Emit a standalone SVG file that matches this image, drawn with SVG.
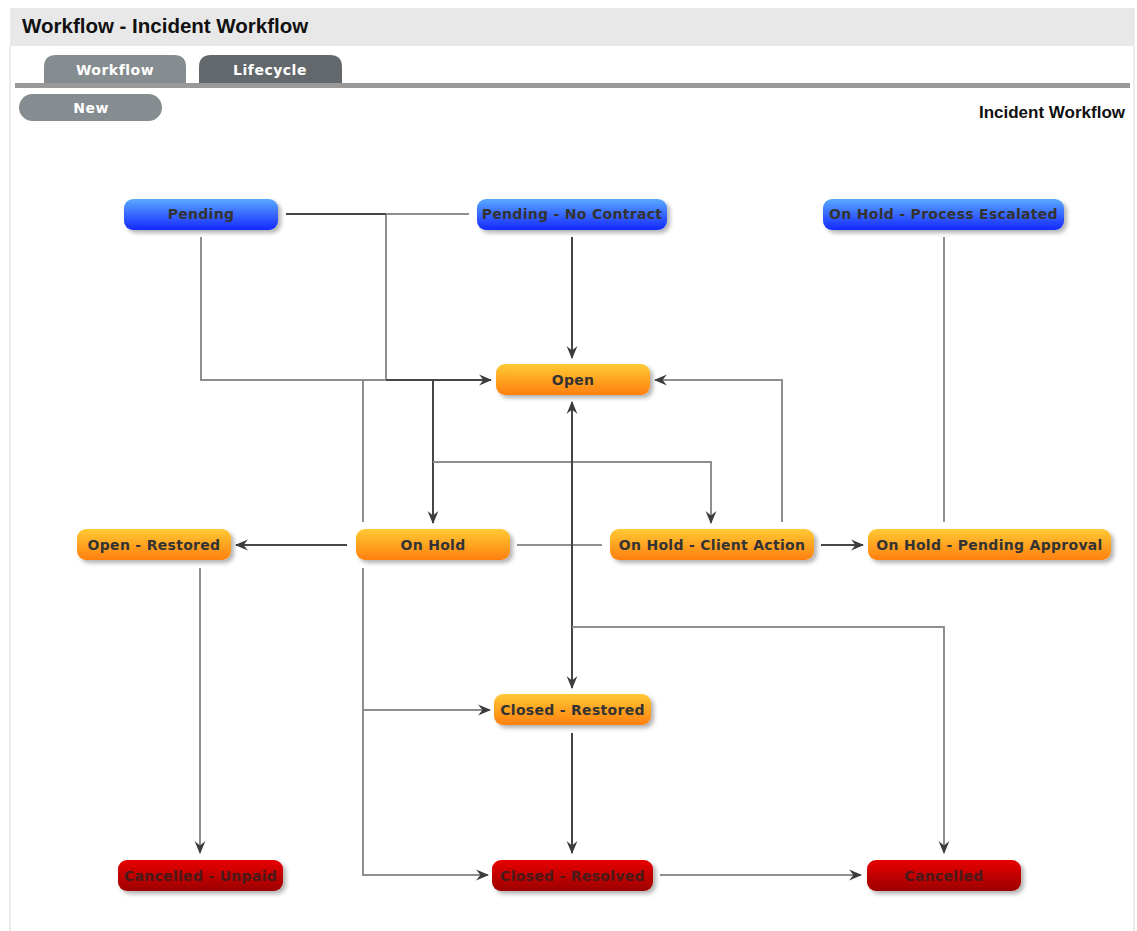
<svg xmlns="http://www.w3.org/2000/svg" width="1137" height="931" viewBox="0 0 1137 931">
<style>
.hdr{font-family:"Liberation Sans",Arial,sans-serif;font-weight:bold;fill:#111}
.tab{font-family:"DejaVu Sans",sans-serif;font-weight:bold;font-size:14px;fill:#fff;text-anchor:middle;letter-spacing:0.5px}
.lbl{font-family:"DejaVu Sans",sans-serif;font-weight:bold;font-size:14px;fill:#333;text-anchor:middle;letter-spacing:0.3px}
.lbl.r{fill:#4a1a1a}
.lt{fill:none;stroke:#8e8e8e;stroke-width:2}
.dk{fill:none;stroke:#464646;stroke-width:2}
.ar{marker-end:url(#arr)}
</style>
<defs>
<linearGradient id="gB" x1="0" y1="0" x2="0" y2="1"><stop offset="0" stop-color="#5aa9ff"/><stop offset="1" stop-color="#1428ff"/></linearGradient>
<linearGradient id="gO" x1="0" y1="0" x2="0" y2="1"><stop offset="0" stop-color="#ffca35"/><stop offset="1" stop-color="#ff7f0e"/></linearGradient>
<linearGradient id="gR" x1="0" y1="0" x2="0" y2="1"><stop offset="0" stop-color="#e80202"/><stop offset="1" stop-color="#9c0000"/></linearGradient>
<filter id="sh" x="-10%" y="-30%" width="125%" height="170%"><feDropShadow dx="3" dy="3" stdDeviation="2" flood-color="#000" flood-opacity="0.3"/></filter>
<marker id="arr" viewBox="0 0 12 12" refX="11" refY="6" markerWidth="13" markerHeight="13" markerUnits="userSpaceOnUse" orient="auto-start-reverse"><path d="M0,1 L12,6 L0,11 L4,6 z" fill="#3c3c3c"/></marker>
</defs>
<rect width="1137" height="931" fill="#fff"/>
<g id="frame">
<rect x="9" y="46" width="2" height="885" fill="#ececec"/>
<rect x="1133" y="8" width="2" height="923" fill="#ececec"/>
<rect x="10" y="8" width="1124" height="38" fill="#e8e8e8"/>
<text class="hdr" x="22" y="33" font-size="20.5">Workflow - Incident Workflow</text>
<path d="M44,84 V67 Q44,55 56,55 H174 Q186,55 186,67 V84 z" fill="#868d90"/>
<text class="tab" x="115" y="75">Workflow</text>
<path d="M199,84 V67 Q199,55 211,55 H330 Q342,55 342,67 V84 z" fill="#62686b"/>
<text class="tab" x="270" y="75">Lifecycle</text>
<rect x="15" y="83" width="1115" height="5" fill="#999"/>
<rect x="19" y="94" width="143" height="27" rx="13.5" fill="#868d90"/>
<text class="tab" x="91" y="113" font-size="13">New</text>
<text class="hdr" x="1125" y="118" font-size="17" text-anchor="end">Incident Workflow</text>
</g>
<g id="connectors">
<path class="lt" d="M469,214 H386 V380"/>
<path class="dk" d="M286,214 H386"/>
<path class="lt" d="M201,237 V380 H386"/>
<path class="dk ar" d="M386,380 H491"/>
<path class="lt" d="M363,522 V380 H386"/>
<path class="dk ar" d="M433,380 V523"/>
<path class="lt ar" d="M433,462 H711 V523"/>
<path class="lt ar" d="M782,522 V380 H655"/>
<path class="dk ar" d="M572,237 V358"/>
<path class="lt" d="M944,237 V522"/>
<path class="dk ar" d="M347,545 H236"/>
<path class="lt" d="M517,545 H602"/>
<path class="dk ar" d="M821,545 H863"/>
<path class="dk" d="M572,402 V688" marker-start="url(#arr)" marker-end="url(#arr)"/>
<path class="lt ar" d="M572,627 H944 V853"/>
<path class="lt ar" d="M200,568 V853"/>
<path class="lt ar" d="M363,568 V875 H488"/>
<path class="lt ar" d="M363,710 H490"/>
<path class="dk ar" d="M572,733 V853"/>
<path class="lt ar" d="M660,875 H861"/>
</g>
<g id="node-pending"><rect x="124" y="199" width="154" height="31" rx="9" fill="url(#gB)" filter="url(#sh)"/><text class="lbl" x="201" y="219">Pending</text></g>
<g id="node-pending-no-contract"><rect x="477" y="199" width="190" height="31" rx="9" fill="url(#gB)" filter="url(#sh)"/><text class="lbl" x="572" y="219">Pending - No Contract</text></g>
<g id="node-process-escalated"><rect x="823" y="199" width="241" height="31" rx="9" fill="url(#gB)" filter="url(#sh)"/><text class="lbl" x="943.5" y="219">On Hold - Process Escalated</text></g>
<g id="node-open"><rect x="496" y="364" width="154" height="31" rx="9" fill="url(#gO)" filter="url(#sh)"/><text class="lbl" x="573" y="385">Open</text></g>
<g id="node-open-restored"><rect x="77" y="529" width="154" height="31" rx="9" fill="url(#gO)" filter="url(#sh)"/><text class="lbl" x="154" y="550">Open - Restored</text></g>
<g id="node-on-hold"><rect x="356" y="529" width="154" height="31" rx="9" fill="url(#gO)" filter="url(#sh)"/><text class="lbl" x="433" y="550">On Hold</text></g>
<g id="node-client-action"><rect x="610" y="529" width="204" height="31" rx="9" fill="url(#gO)" filter="url(#sh)"/><text class="lbl" x="712" y="550">On Hold - Client Action</text></g>
<g id="node-pending-approval"><rect x="868" y="529" width="243" height="31" rx="9" fill="url(#gO)" filter="url(#sh)"/><text class="lbl" x="989.5" y="550">On Hold - Pending Approval</text></g>
<g id="node-closed-restored"><rect x="494" y="694" width="157" height="31" rx="9" fill="url(#gO)" filter="url(#sh)"/><text class="lbl" x="572.5" y="715">Closed - Restored</text></g>
<g id="node-cancelled-unpaid"><rect x="118" y="860" width="165" height="31" rx="9" fill="url(#gR)" filter="url(#sh)"/><text class="lbl r" x="200.5" y="881">Cancelled - Unpaid</text></g>
<g id="node-closed-resolved"><rect x="492" y="860" width="161" height="31" rx="9" fill="url(#gR)" filter="url(#sh)"/><text class="lbl r" x="572.5" y="881">Closed - Resolved</text></g>
<g id="node-cancelled"><rect x="867" y="860" width="154" height="31" rx="9" fill="url(#gR)" filter="url(#sh)"/><text class="lbl r" x="944" y="881">Cancelled</text></g>
</svg>
